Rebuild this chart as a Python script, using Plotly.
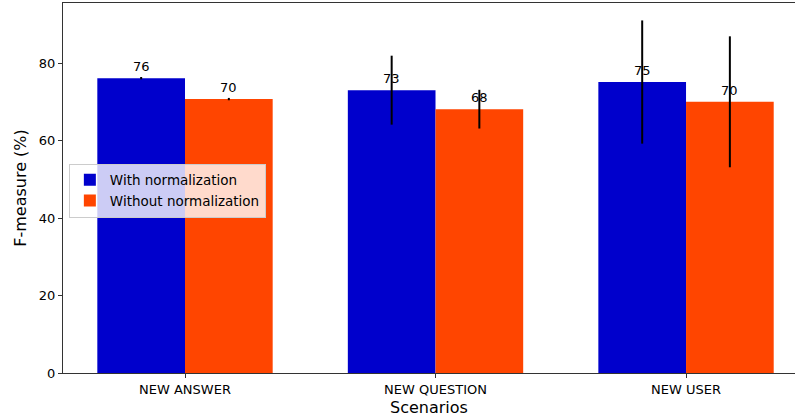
import plotly.graph_objects as go

scenarios = ["NEW ANSWER", "NEW QUESTION", "NEW USER"]
with_norm = [76.1, 73.0, 75.1]
with_norm_err = [0.3, 8.9, 15.9]
without_norm = [70.7, 68.1, 70.0]
without_norm_err = [0.3, 5.0, 16.9]

BLUE = "#0000CC"
ORANGE = "#FF4500"
FONT = "DejaVu Sans, Verdana, sans-serif"

xs = list(range(len(scenarios)))
fig = go.Figure()
fig.add_trace(go.Bar(
    x=xs, y=with_norm, name="With normalization", marker=dict(color=BLUE, line=dict(width=0)),
    error_y=dict(type="data", array=with_norm_err, color="black", thickness=2, width=0),
))
fig.add_trace(go.Bar(
    x=xs, y=without_norm, name="Without normalization", marker=dict(color=ORANGE, line=dict(width=0)),
    error_y=dict(type="data", array=without_norm_err, color="black", thickness=2, width=0),
))

for i, v in enumerate(with_norm):
    fig.add_annotation(x=i - 0.175, y=v + 0.5, text=str(int(v)), showarrow=False,
                       yanchor="bottom", xanchor="center", font=dict(size=13, color="black", family=FONT))
for i, v in enumerate(without_norm):
    fig.add_annotation(x=i + 0.175, y=v + 0.5, text=str(int(v)), showarrow=False,
                       yanchor="bottom", xanchor="center", font=dict(size=13, color="black", family=FONT))

fig.update_layout(
    width=795, height=418,
    margin=dict(l=63, r=0, t=3, b=45),
    paper_bgcolor="white", plot_bgcolor="white",
    barmode="group", bargap=0.3, bargroupgap=0,
    font=dict(family=FONT, size=13, color="black"),
    showlegend=True,
    legend=dict(x=0.008, y=0.566, xanchor="left", yanchor="top",
                bgcolor="rgba(255,255,255,0.8)", bordercolor="#cccccc", borderwidth=1,
                font=dict(size=13.5, family=FONT), tracegroupgap=0),
    xaxis=dict(
        range=[-0.487, 2.435], tickmode="array", tickvals=xs, ticktext=scenarios,
        showline=True, linecolor="#333333", linewidth=1, mirror=True, automargin=False,
        ticks="outside", ticklen=4, tickcolor="#333333", showgrid=False, zeroline=False,
        title=dict(text="Scenarios", font=dict(size=16, family=FONT), standoff=6),
        tickfont=dict(size=13, family=FONT),
    ),
    yaxis=dict(
        range=[0, 95.5], tickvals=[0, 20, 40, 60, 80], automargin=False,
        showline=True, linecolor="#333333", linewidth=1,
        ticks="outside", ticklen=4, tickcolor="#333333", showgrid=False, zeroline=False,
        title=dict(text="F-measure (%)", font=dict(size=16, family=FONT), standoff=8),
        tickfont=dict(size=13, family=FONT),
    ),
)

fig.write_html("out.html", config={"displayModeBar": False},
               post_script="document.body.style.margin='0';document.body.style.overflow='hidden';")
